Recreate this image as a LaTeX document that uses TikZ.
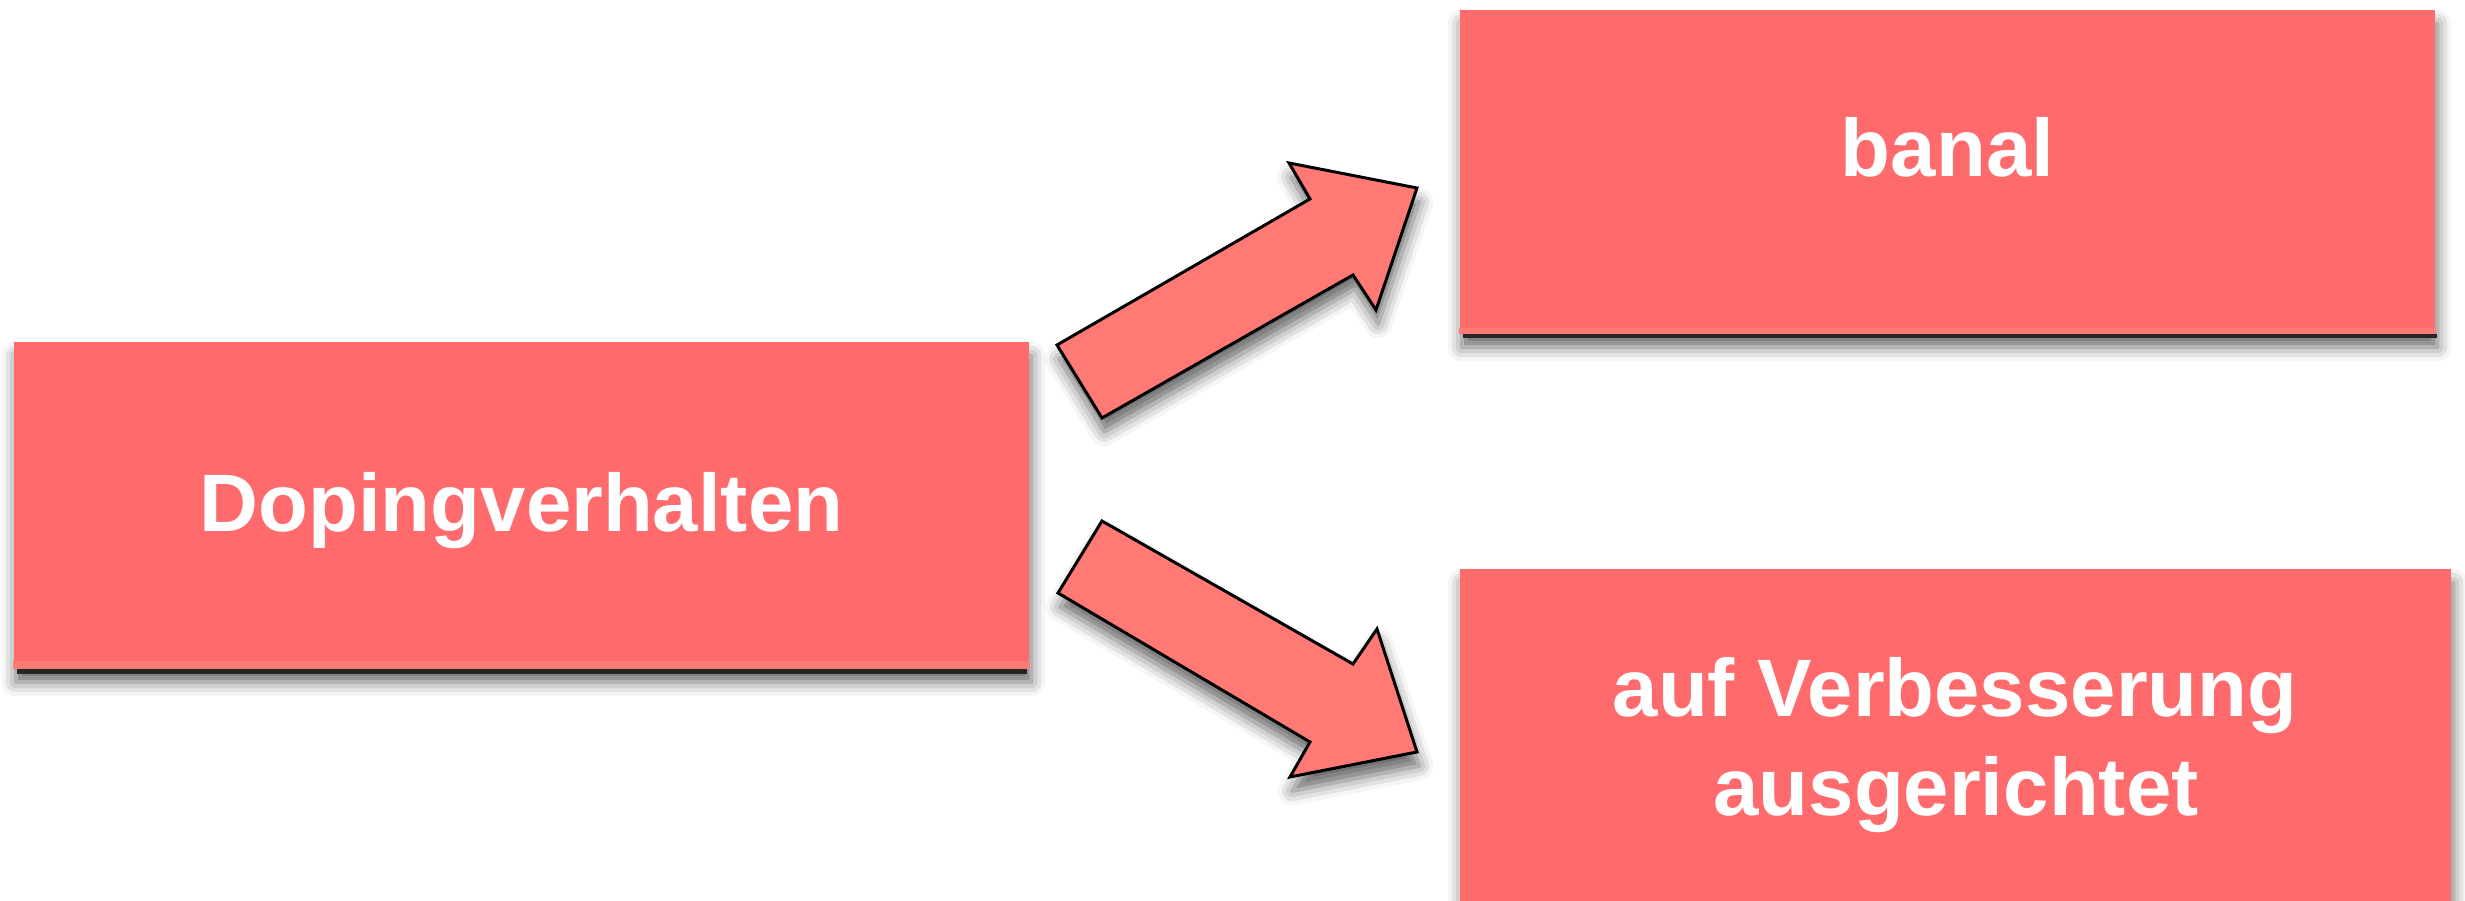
\documentclass[tikz,border=0pt]{standalone}
\usepackage{fontspec}
\setmainfont{Liberation Sans}
\usetikzlibrary{calc,shadows.blur}
\definecolor{boxred}{RGB}{255,106,108}
\definecolor{stripered}{RGB}{255,124,118}
\definecolor{arrowred}{RGB}{255,122,117}
\tikzset{
  px/.style={x=0.01cm,y=-0.01cm},
  softshadow/.style={blur shadow={shadow xshift=0.6pt, shadow yshift=-4pt, shadow blur radius=4pt, shadow opacity=60}},
  boxstyle/.style={rectangle, fill=boxred, draw=none, inner sep=0pt, softshadow},
  txt/.style={text=white, font=\bfseries\fontsize{23.2}{28}\selectfont, inner sep=0pt},
  blockarrow/.style={fill=arrowred, draw=black, line width=0.85pt, line join=miter, softshadow},
}
\begin{document}
\begin{tikzpicture}[px]
\useasboundingbox (0,0) rectangle (2465,901);
% boxes
\node[boxstyle, minimum width=10.15cm, minimum height=3.26cm] (dop) at (521.5,505) {};
\node[boxstyle, minimum width=9.75cm, minimum height=3.23cm] (banal) at (1947.5,171.5) {};
\node[boxstyle, minimum width=9.91cm, minimum height=3.45cm] (verb) at (1955.5,741.5) {};
% bottom stripes and dark edges
\fill[black!85] ($(dop.south west)+(4,0)$) rectangle ($(dop.south east)+(-3,5)$);
\fill[stripered] ($(dop.south west)+(0,-8)$) rectangle (dop.south east);
\fill[black!85] ($(banal.south west)+(4,0)$) rectangle ($(banal.south east)+(1,4)$);
\fill[stripered] ($(banal.south west)+(0,-6)$) rectangle (banal.south east);
% texts
\node[txt, anchor=base] (doptext) at (521.5,532) {Dopingverhalten};
\node[txt, anchor=base] (banaltext) at (1947.5,177) {banal};
\node[txt, anchor=base] (verbtext1) at (1955,717) {auf Verbesserung};
\node[txt, anchor=base] (verbtext2) at (1956,816) {ausgerichtet};
% block arrows
\draw[blockarrow] (1057,345) -- (1102,418) -- (1353,275) -- (1376,310) -- (1417,188) -- (1289,163) -- (1310,199) -- cycle;
\draw[blockarrow] (1102,521) -- (1058,593) -- (1310,742) -- (1290,777) -- (1417,752) -- (1377,629) -- (1353,664) -- cycle;
\end{tikzpicture}
\end{document}
